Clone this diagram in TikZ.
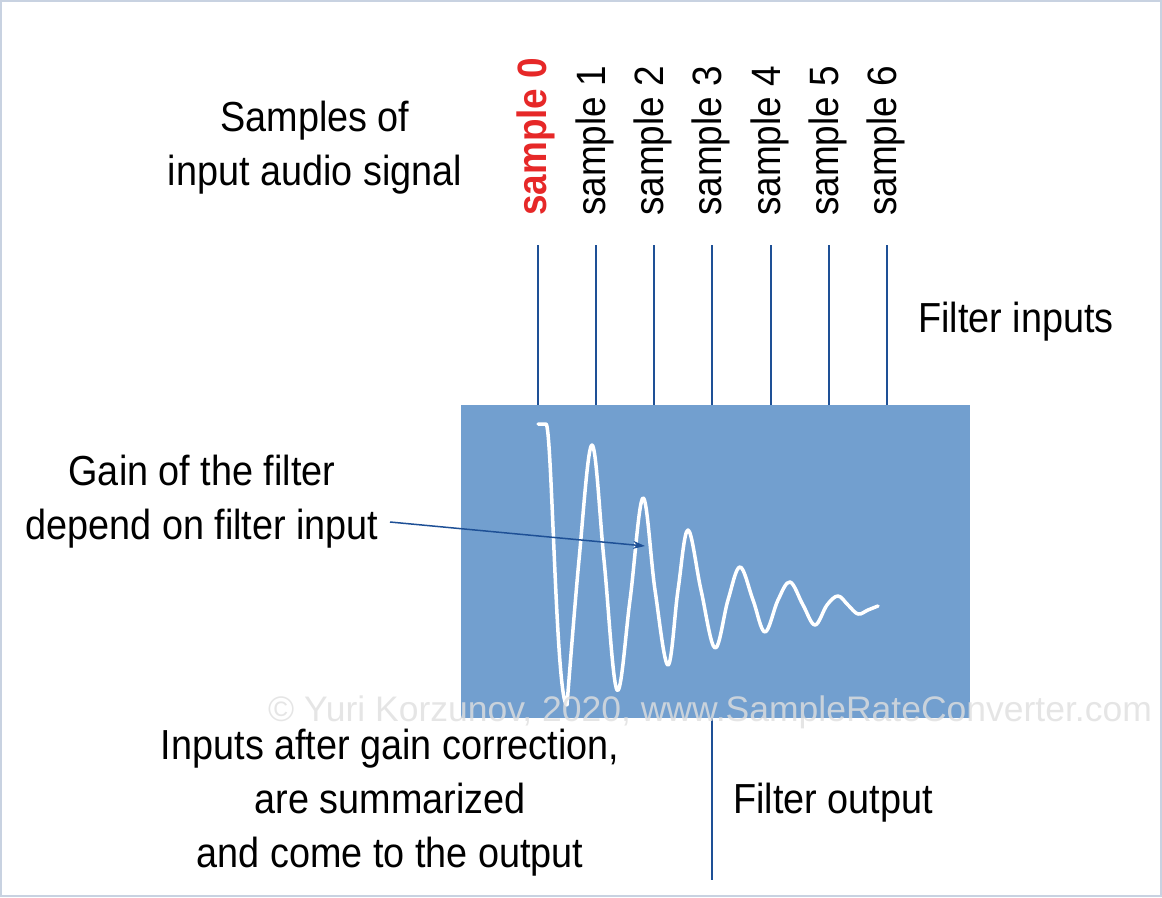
\documentclass[tikz,border=0pt]{standalone}
\usepackage{fontspec}
\usetikzlibrary{arrows.meta}
\setmainfont[FakeStretch=0.9]{Liberation Sans}
\newfontfamily\wmfont{Liberation Sans}
\begin{document}
\begin{tikzpicture}[x=1pt,y=-1pt,
  lbl/.style={font=\fontsize{42}{54}\selectfont, align=center, inner sep=0pt},
  smp/.style={font=\fontsize{41}{44}\selectfont, rotate=90, anchor=west, inner sep=0pt},
  wire/.style={draw={rgb,255:red,30;green,80;blue,150}, line width=1.5pt}]
\useasboundingbox (0,0) rectangle (1162,897);
\draw[draw={rgb,255:red,200;green,210;blue,225}, line width=1.5pt] (1,1) rectangle (1161,896);
\node[fill={rgb,255:red,114;green,159;blue,207}, minimum width=509pt, minimum height=313pt, inner sep=0pt] (box) at (715.5,561.5) {};
\foreach \i/\x in {0/538,1/596,2/654,3/712,4/771,5/829,6/887}{
  \coordinate (t\i) at (\x,245);
  \coordinate (b\i) at (\x,405);
  \draw[wire] (t\i) -- (b\i);
}
\node[smp, text={rgb,255:red,230;green,40;blue,40}, font=\fontsize{41}{44}\selectfont\bfseries] (s0) at (536,216) {sample 0};
\foreach \i/\x in {1/595,2/653,3/711,4/770,5/828,6/886}{
  \node[smp] (s\i) at (\x,216) {sample \i};
}
\node[lbl] (samples) at (315,148) {Samples of\\input audio signal};
\node[lbl, anchor=west] (fin) at (918,322) {Filter inputs};
\node[lbl] (gain) at (202,502) {Gain of the filter\\depend on filter input};
\node[lbl] (sum) at (390,803) {Inputs after gain correction,\\are summarized\\and come to the output};
\node[lbl, anchor=west] (fout) at (733,803) {Filter output};
\coordinate (o1) at (712,718);
\coordinate (o2) at (712,880);
\draw[wire] (o1) -- (o2);
\draw[white, line width=3.5pt, line join=round, line cap=round]
 (538,424) -- (546,424) .. controls (552,424) and (556,705) .. (567,705)
 plot[smooth, tension=0.6] coordinates {(567,705) (579,560) (592,445) (604,560) (617,690) (630,600) (643,498) (655,590) (668,665) (678,590) (688,530) (701,590) (715,648) (728,600) (740,567) (753,600) (765,632) (778,600) (790,582) (803,605) (815,625) (827,605) (838,596) (848,605) (858,614) (868,610) (878,606)};
\coordinate (ga) at (390,522);
\coordinate (gb) at (645,546);
\draw[wire, -{Stealth[length=12pt,width=8pt]}] (ga) -- (gb);
\node[font=\wmfont\fontsize{35.5}{38}\selectfont, text=white!75!gray, opacity=0.8, inner sep=0pt] (wm) at (710,712) {© Yuri Korzunov, 2020, www.SampleRateConverter.com};
\end{tikzpicture}
\end{document}
